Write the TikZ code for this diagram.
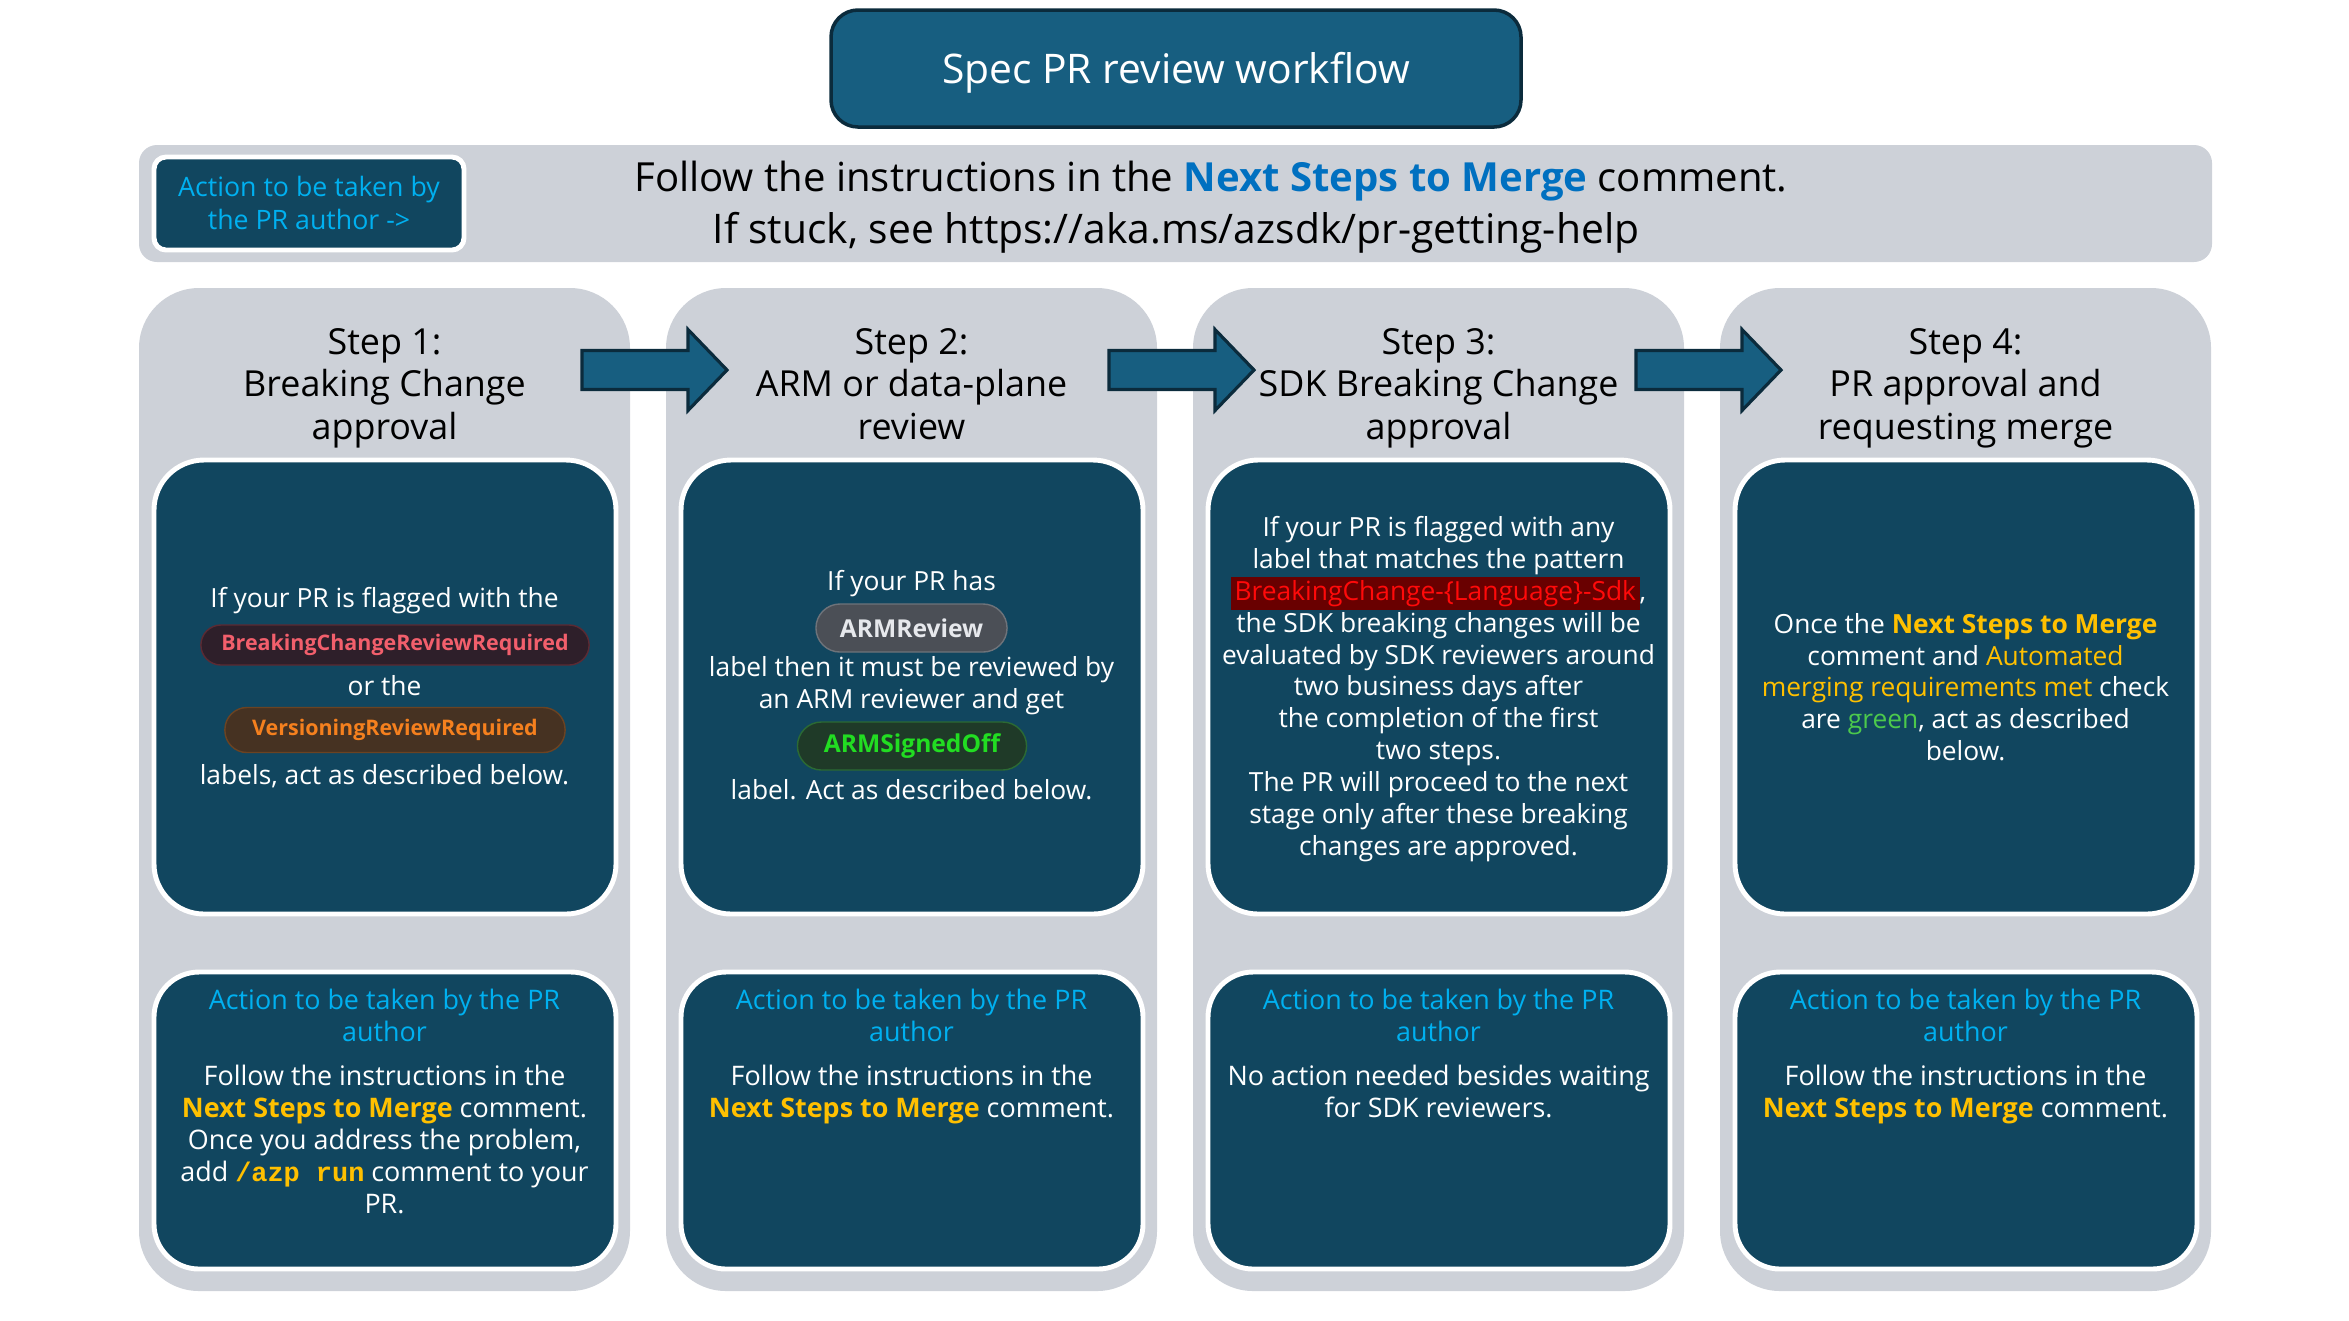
\documentclass[tikz,border=0pt]{standalone}
\usepackage{fontspec}
\setmainfont{Open Sans}
\setmonofont{Liberation Mono}
\usetikzlibrary{positioning}
\definecolor{TitleBlue}{HTML}{175E80}
\definecolor{EdgeDark}{HTML}{0B2B3C}
\definecolor{PanelGray}{HTML}{CDD1D8}
\definecolor{BoxTeal}{HTML}{11465F}
\definecolor{ActCyan}{HTML}{00B0F0}
\definecolor{MergeYellow}{HTML}{FFC000}
\definecolor{LinkBlue}{HTML}{0070C0}
\definecolor{OkGreen}{HTML}{4CC94C}
\definecolor{BcFill}{HTML}{2E1F2A}\definecolor{BcEdge}{HTML}{5B2A33}\definecolor{BcText}{HTML}{F25F6C}
\definecolor{VrFill}{HTML}{463222}\definecolor{VrEdge}{HTML}{6B4322}\definecolor{VrText}{HTML}{F5801E}
\definecolor{ArFill}{HTML}{4B4F56}\definecolor{ArEdge}{HTML}{6E737A}\definecolor{ArText}{HTML}{E6E8EC}
\definecolor{SoFill}{HTML}{1F3A28}\definecolor{SoEdge}{HTML}{2B6A34}\definecolor{SoText}{HTML}{22DD22}
\definecolor{SdkFill}{HTML}{690000}\definecolor{SdkText}{HTML}{FF0A0A}

\begin{document}
\begin{tikzpicture}[
        x=0.01cm, y=-0.01cm,
        column/.style={fill=PanelGray, rounded corners=0.6cm},
        darkbox/.style={fill=BoxTeal, draw=white, line width=1.4pt, rounded corners=0.5cm},
        blockarrow/.style={fill=TitleBlue, draw=EdgeDark, line width=0.9pt, line join=miter},
        head/.style={align=center, text=black, anchor=north, font=\fontsize{10.2}{12.1}\selectfont},
        body/.style={align=center, text=white, inner sep=0pt, font=\fontsize{7.5}{9.05}\selectfont},
        act/.style={align=center, text=white, inner sep=0pt, anchor=north, font=\fontsize{7.65}{9.15}\selectfont},
        pill/.style={rounded corners=0.2cm, line width=0.4pt, inner sep=0pt, font=\bfseries\fontsize{6.1}{7}\selectfont},
        bigpill/.style={pill, rounded corners=0.24cm, font=\bfseries\fontsize{7}{8}\selectfont},
      ]
        \useasboundingbox (0,0) rectangle (2349,1320);
        % titel
        \draw[fill=TitleBlue, draw=EdgeDark, line width=1pt, rounded corners=0.27cm] (831,10) rectangle (1521,127);
        \node[text=white, font=\fontsize{11.6}{14}\selectfont] (title) at (1176,73) {Spec PR review workflow};
        % band met instructies
        \fill[PanelGray, rounded corners=0.18cm] (139,145) rectangle (2212,262);
        \draw[fill=BoxTeal, draw=white, line width=1.4pt, rounded corners=0.12cm] (154,157) rectangle (464,250);
        \node[align=center, text=ActCyan, font=\fontsize{7.6}{9.2}\selectfont] (author) at (309,203) {Action to be taken by\\the PR author ->};
        \node[font=\fontsize{11.4}{14}\selectfont] (bandA) at (1211,181)
          {Follow the instructions in the \textcolor{LinkBlue}{\textbf{Next Steps to Merge}} comment.};
        \node[font=\fontsize{11.6}{14}\selectfont] (bandB) at (1176,233)
          {If stuck, see https://aka.ms/azsdk/pr-getting-help};
        % kolommen, x links = 139 + 527 i
        \fill[column] (139,288) rectangle ++(491,1003);
        \fill[column] (666,288) rectangle ++(491,1003);
        \fill[column] (1193,288) rectangle ++(491,1003);
        \fill[column] (1720,288) rectangle ++(491,1003);
        \draw[darkbox] (154,460) rectangle ++(462,454);
        \draw[darkbox] (681,460) rectangle ++(462,454);
        \draw[darkbox] (1208,460) rectangle ++(462,454);
        \draw[darkbox] (1735,460) rectangle ++(462,454);
        \draw[darkbox, rounded corners=0.45cm] (154,972) rectangle ++(462,297);
        \draw[darkbox, rounded corners=0.45cm] (681,972) rectangle ++(462,297);
        \draw[darkbox, rounded corners=0.45cm] (1208,972) rectangle ++(462,297);
        \draw[darkbox, rounded corners=0.45cm] (1735,972) rectangle ++(462,297);
        % pijlen tussen de stappen
        \coordinate (arrA) at (582,370);
        \coordinate (arrB) at (1109,370);
        \coordinate (arrC) at (1636,370);
        \draw[blockarrow] (arrA) ++(0,-19.5) -- ++(106,0) -- ++(0,-21) -- ++(39,40.5) -- ++(-39,40.5) -- ++(0,-21) -- ++(-106,0) -- cycle;
        \draw[blockarrow] (arrB) ++(0,-19.5) -- ++(106,0) -- ++(0,-21) -- ++(39,40.5) -- ++(-39,40.5) -- ++(0,-21) -- ++(-106,0) -- cycle;
        \draw[blockarrow] (arrC) ++(0,-19.5) -- ++(106,0) -- ++(0,-21) -- ++(39,40.5) -- ++(-39,40.5) -- ++(0,-21) -- ++(-106,0) -- cycle;
        % koppen
        \node[head] (headA) at (384.5,316) {Step 1:\\Breaking Change\\approval};
        \node[head] (headB) at (911.5,316) {Step 2:\\ARM or data-plane\\review};
        \node[head] (headC) at (1438.5,316) {Step 3:\\SDK Breaking Change\\approval};
        \node[head] (headD) at (1965.5,316) {Step 4:\\PR approval and\\requesting merge};
        % stap 1
        \node[body] (oneA) at (384.5,601) {If your PR is flagged with the};
        \node[pill, fill=BcFill, draw=BcEdge, text=BcText, minimum width=3.88cm, minimum height=0.4cm] (oneP) at (395,645) {BreakingChangeReviewRequired};
        \node[body] (oneB) at (384.5,686) {or the};
        \node[pill, fill=VrFill, draw=VrEdge, text=VrText, minimum width=3.4cm, minimum height=0.45cm, rounded corners=0.22cm] (oneQ) at (395,730) {VersioningReviewRequired};
        \node[body] (oneC) at (384.5,776) {labels, act as described below.};
        % stap 2
        \node[body] (twoA) at (911.5,584) {If your PR has};
        \node[bigpill, fill=ArFill, draw=ArEdge, text=ArText, minimum width=1.91cm, minimum height=0.48cm] (twoP) at (911.5,628) {ARMReview};
        \node[body] (twoB) at (911.5,686) {label then it must be reviewed by\\an ARM reviewer and get};
        \node[bigpill, fill=SoFill, draw=SoEdge, text=SoText, minimum width=2.29cm, minimum height=0.48cm] (twoQ) at (912,746) {ARMSignedOff};
        \node[body] (twoC) at (911.5,790) {label. Act as described below.};
        % stap 3
        \node[body] (three) at (1438.5,689) {If your PR is flagged with any\\label that matches the pattern\\
          {\setlength{\fboxsep}{1pt}\colorbox{SdkFill}{\textcolor{SdkText}{BreakingChange-\{Language\}-Sdk}}},\\
          the SDK breaking changes will be\\evaluated by SDK reviewers around\\two business days after\\the completion of the first\\two steps.\\
          The PR will proceed to the next\\stage only after these breaking\\changes are approved.};
        % stap 4
        \node[body] (four) at (1965.5,687) {Once the \textcolor{MergeYellow}{\textbf{Next Steps to Merge}}\\
          comment and \textcolor{MergeYellow}{Automated}\\\textcolor{MergeYellow}{merging requirements met} check\\
          are \textcolor{OkGreen}{green}, act as described\\below.};
        % acties onderaan
        \node[act] (actA) at (384.5,988) {\textcolor{ActCyan}{Action to be taken by the PR}\\\textcolor{ActCyan}{author}\\[3.3pt]
          Follow the instructions in the\\\textcolor{MergeYellow}{\textbf{Next Steps to Merge}} comment.\\
          Once you address the problem,\\add \textcolor{MergeYellow}{\texttt{\textbf{/azp run}}} comment to your\\PR.};
        \node[act] (actB) at (911.5,988) {\textcolor{ActCyan}{Action to be taken by the PR}\\\textcolor{ActCyan}{author}\\[3.3pt]
          Follow the instructions in the\\\textcolor{MergeYellow}{\textbf{Next Steps to Merge}} comment.};
        \node[act] (actC) at (1438.5,988) {\textcolor{ActCyan}{Action to be taken by the PR}\\\textcolor{ActCyan}{author}\\[3.3pt]
          No action needed besides waiting\\for SDK reviewers.};
        \node[act] (actD) at (1965.5,988) {\textcolor{ActCyan}{Action to be taken by the PR}\\\textcolor{ActCyan}{author}\\[3.3pt]
          Follow the instructions in the\\\textcolor{MergeYellow}{\textbf{Next Steps to Merge}} comment.};
      \end{tikzpicture}
\end{document}
